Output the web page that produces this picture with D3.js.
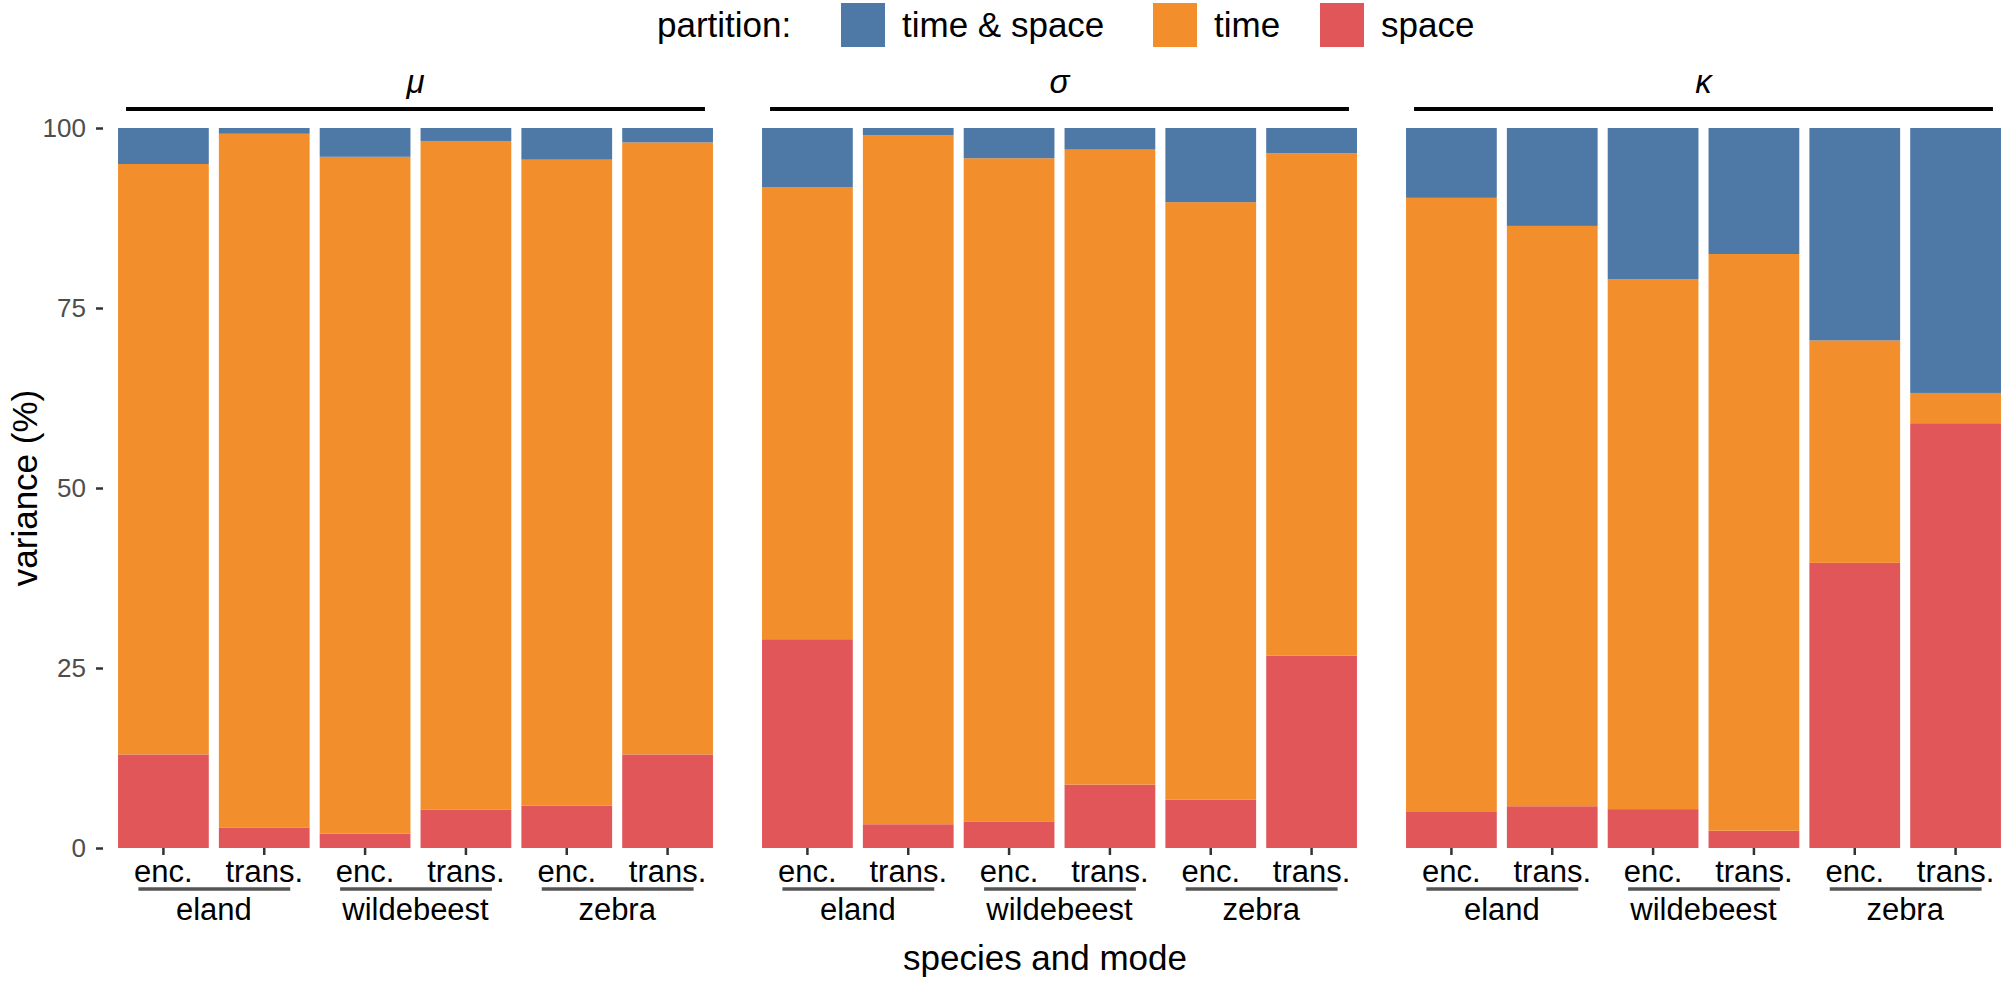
<!DOCTYPE html>
<html>
<head>
<meta charset="utf-8">
<script src="https://cdn.jsdelivr.net/npm/d3@7"></script>
<style>
  body { margin: 0; background: #fff; }
  text { font-family: "Liberation Sans", Arial, sans-serif; }
</style>
</head>
<body>
<div id="chart"></div>
<script>
// variance partition (percent)
var params = ["μ", "σ", "κ"]
var species = ["eland", "wildebeest", "zebra"]
var modes = ["enc.", "trans."]
var partitions = ["space", "time", "time & space"]
var legendOrder = ["time & space", "time", "space"]
var yTicks = [0, 25, 50, 75, 100]

// one value per bar, bar order: eland enc, eland trans, wildebeest enc, ...
var spaceVals = {
  "μ": [13.0, 2.8, 2.0, 5.3, 5.9, 13.0],
  "σ": [29.0, 3.3, 3.7, 8.8, 6.7, 26.7],
  "κ": [5.1, 5.8, 5.4, 2.4, 39.6, 59.0]
}
var timeVals = {
  "μ": [82.0, 96.4, 94.0, 92.9, 89.7, 85.0],
  "σ": [62.8, 95.7, 92.1, 88.2, 83.0, 69.8],
  "κ": [85.2, 80.6, 73.6, 80.1, 30.9, 4.2]
}
var bothVals = {
  "μ": [5.0, 0.8, 4.0, 1.8, 4.4, 2.0],
  "σ": [8.2, 1.0, 4.2, 3.0, 10.3, 3.5],
  "κ": [9.7, 13.6, 21.0, 17.5, 29.5, 36.8]
}

var colors = {"time & space": "#4e79a7", "time": "#f28e2b", "space": "#e15759"}

var W = 2008, H = 982
var svg = d3.select("#chart").append("svg")
  .attr("width", W).attr("height", H)

var panelW = 605, panelGap = 39, panelX0 = 113
var plotTop = 128, plotBottom = 848

var y = d3.scaleLinear().domain([0, 100]).range([plotBottom, plotTop])

var bars = []
species.forEach(function(s) { modes.forEach(function(m) { bars.push(s + "|" + m) }) })

var x = d3.scaleBand().domain(bars).range([0, panelW]).paddingInner(0.1).paddingOuter(0.05)

//////////// legend
var leg = svg.append("g")
leg.append("text").attr("x", 657).attr("y", 37).attr("font-size", 35).text("partition:")
var legBox = [841, 1153, 1320]
legendOrder.forEach(function(p, i) {
  leg.append("rect").attr("x", legBox[i]).attr("y", 3).attr("width", 44).attr("height", 44)
    .attr("fill", colors[p])
  leg.append("text").attr("x", legBox[i] + 61).attr("y", 37).attr("font-size", 35).text(p)
})

//////////// y axis (only on first panel)
var yAxis = svg.append("g").attr("transform", "translate(103,0)")
  .call(d3.axisLeft(y).tickValues(yTicks).tickSize(7).tickPadding(10))
yAxis.select(".domain").remove()
yAxis.selectAll("line").attr("stroke", "#333").attr("stroke-width", 2.5)
yAxis.selectAll("text").attr("font-size", 26).attr("fill", "#4d4d4d")
  .attr("font-family", "Liberation Sans, Arial, sans-serif")

svg.append("text")
  .attr("transform", "translate(37," + ((plotTop + plotBottom) / 2) + ") rotate(-90)")
  .attr("text-anchor", "middle").attr("font-size", 35).text("variance (%)")

//////////// panels
params.forEach(function(p, pi) {
  var px = panelX0 + pi * (panelW + panelGap)
  var g = svg.append("g").attr("transform", "translate(" + px + ",0)")

  // strip
  g.append("line").attr("x1", x(bars[0]) + 8).attr("x2", x(bars[5]) + x.bandwidth() - 8)
    .attr("y1", 109).attr("y2", 109).attr("stroke", "#000").attr("stroke-width", 4)
  g.append("text").attr("x", panelW / 2).attr("y", 93).attr("text-anchor", "middle")
    .attr("font-size", 33).attr("font-style", "italic").text(p)

  // stacked bars
  var rows = bars.map(function(b, i) {
    return {key: b, "space": spaceVals[p][i], "time": timeVals[p][i], "time & space": bothVals[p][i]}
  })
  var stack = d3.stack().keys(partitions)(rows)
  stack.forEach(function(layer) {
    g.selectAll(null).data(layer).join("rect")
      .attr("x", function(d) { return x(d.data.key) })
      .attr("width", x.bandwidth())
      .attr("y", function(d) { return y(d[1]) })
      .attr("height", function(d) { return y(d[0]) - y(d[1]) })
      .attr("fill", colors[layer.key])
  })

  // x axis ticks + mode labels
  var xAxis = g.append("g").attr("transform", "translate(0," + plotBottom + ")")
    .call(d3.axisBottom(x).tickSize(7).tickPadding(5).tickFormat(function(d) { return d.split("|")[1] }))
  xAxis.select(".domain").remove()
  xAxis.selectAll("line").attr("stroke", "#333").attr("stroke-width", 2.5)
  xAxis.selectAll("text").attr("font-size", 31).attr("fill", "#000")
    .attr("font-family", "Liberation Sans, Arial, sans-serif")

  // species groups
  species.forEach(function(s) {
    var c1 = x(s + "|enc.") + x.bandwidth() / 2
    var c2 = x(s + "|trans.") + x.bandwidth() / 2
    g.append("line").attr("x1", c1 - 25).attr("x2", c2 + 26)
      .attr("y1", 889).attr("y2", 889).attr("stroke", "#555").attr("stroke-width", 3.5)
    g.append("text").attr("x", (c1 + c2) / 2).attr("y", 920).attr("text-anchor", "middle")
      .attr("font-size", 31).text(s)
  })
})

svg.append("text").attr("x", 1045).attr("y", 970)
  .attr("text-anchor", "middle").attr("font-size", 35).text("species and mode")
</script>
</body>
</html>
